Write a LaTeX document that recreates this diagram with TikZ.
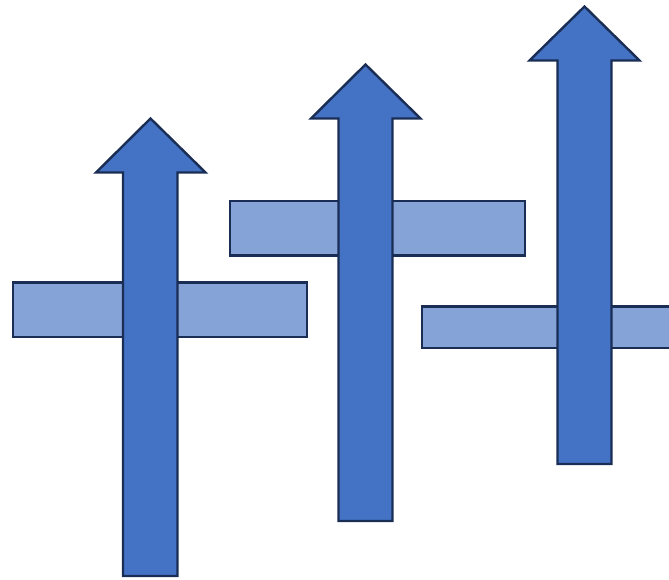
\documentclass[tikz,border=0pt]{standalone}
\definecolor{arrowfill}{HTML}{4472C4}
\definecolor{barfill}{HTML}{86A3D8}
\definecolor{edge}{HTML}{1A2E55}
\begin{document}
\begin{tikzpicture}[x=1pt,y=-1pt,
  bar/.style={fill=barfill,draw=edge,line width=2.4pt,line join=miter},
  uparrow/.style={fill=arrowfill,draw=edge,line width=2.4pt,line join=miter}]
\useasboundingbox (0,0) rectangle (669,579);
\clip (0,0) rectangle (669,579);
% bars
\draw[bar] (13,282.5) rectangle (307,337);
\draw[uparrow] (150.5,118.5) -- (205.5,172.5) -- (177.5,172.5) -- (177.5,576) -- (123,576) -- (123,172.5) -- (96,172.5) -- cycle;
\draw[bar] (230,201) rectangle (525,255.5);
\draw[uparrow] (365.5,64.5) -- (420.5,118.5) -- (392.5,118.5) -- (392.5,521) -- (338.5,521) -- (338.5,118.5) -- (311,118.5) -- cycle;
\draw[bar] (422,306.5) rectangle (690,348);
\draw[uparrow] (584.5,6.5) -- (639.5,60.5) -- (611.5,60.5) -- (611.5,464) -- (557.5,464) -- (557.5,60.5) -- (529.5,60.5) -- cycle;
\end{tikzpicture}
\end{document}
